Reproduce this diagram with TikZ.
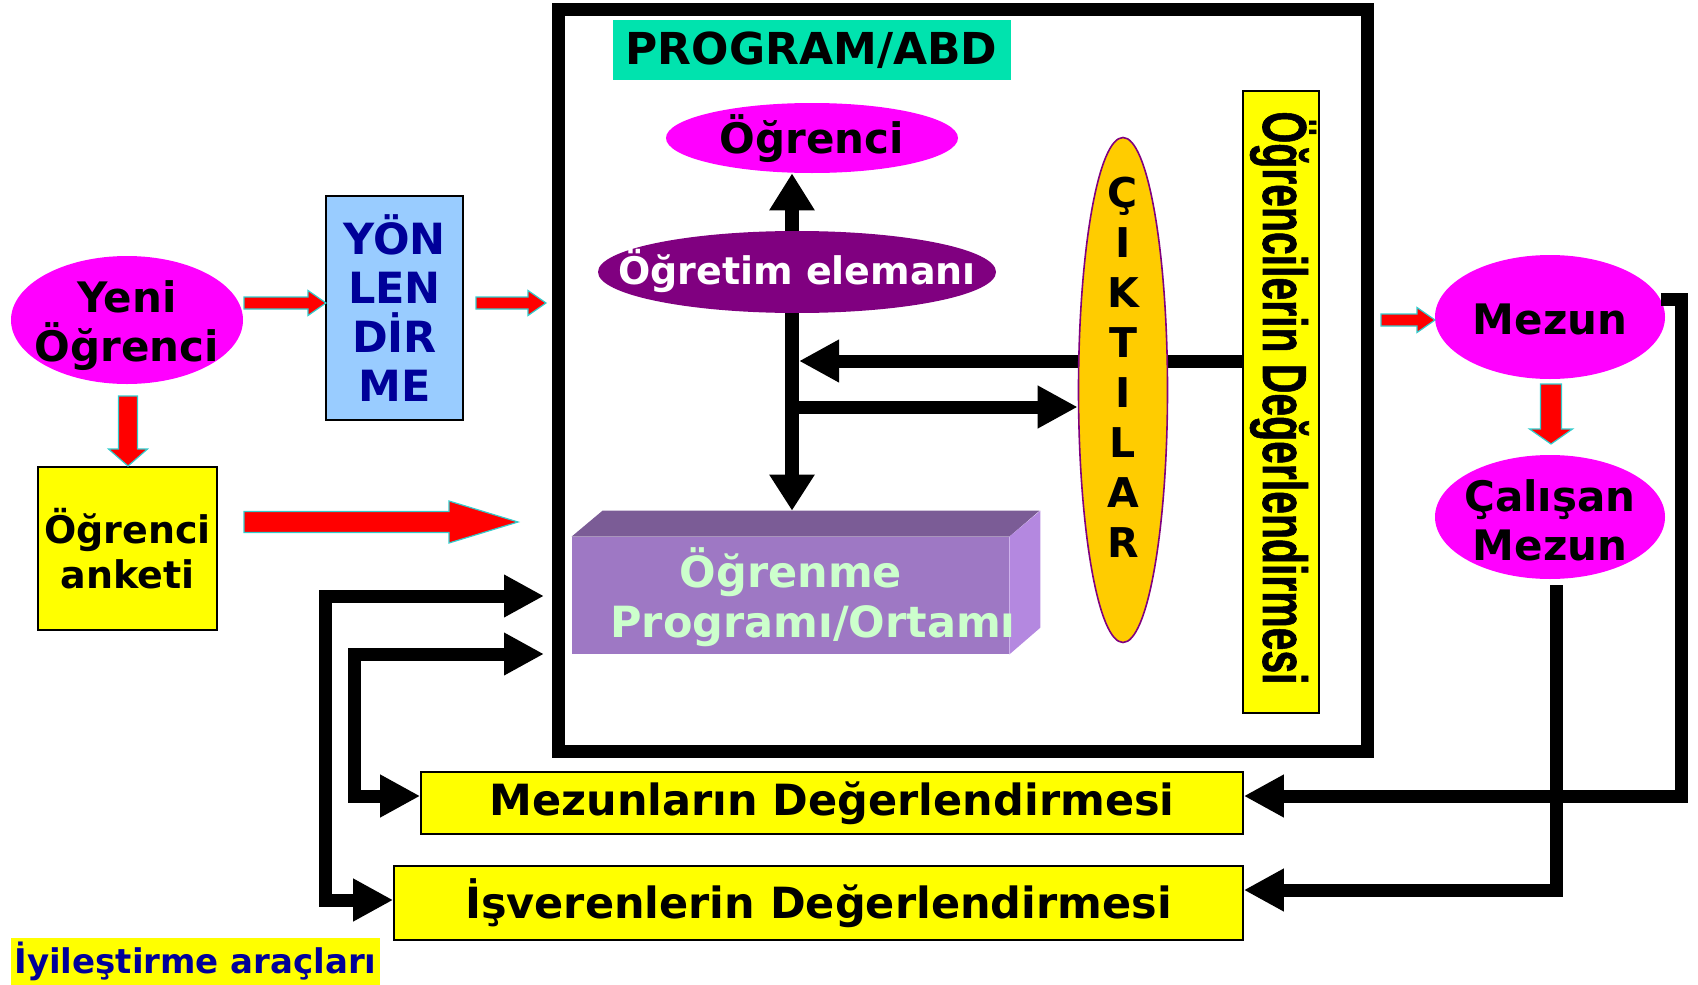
\documentclass[tikz,border=0pt]{standalone}
\usepackage{fontspec}
\setmainfont{DejaVu Sans}
\newfontfamily\libsans{Liberation Sans Bold}[FakeBold=1.2]
\usetikzlibrary{shapes.geometric,arrows.meta}
\definecolor{magentaF}{RGB}{255,0,255}
\definecolor{navyT}{RGB}{0,0,153}
\definecolor{skyB}{RGB}{153,204,255}
\definecolor{yel}{RGB}{255,255,0}
\definecolor{turq}{RGB}{0,227,174}
\definecolor{purp}{RGB}{128,0,128}
\definecolor{gold}{RGB}{255,204,0}
\definecolor{boxFront}{RGB}{158,120,196}
\definecolor{boxTop}{RGB}{123,92,150}
\definecolor{boxSide}{RGB}{180,136,224}
\definecolor{mint}{RGB}{204,255,204}
\definecolor{arrowEdge}{RGB}{51,204,204}
\pgfdeclarelayer{bg}
\pgfsetlayers{bg,main}
\newcommand{\fs}[2]{\fontsize{#1}{#2}\selectfont}
\newcommand{\hblk}[6]{\filldraw[redblk] (#1,{#2-#4}) -- ({#3-#6},{#2-#4}) -- ({#3-#6},{#2-#5}) -- (#3,#2) -- ({#3-#6},{#2+#5}) -- ({#3-#6},{#2+#4}) -- (#1,{#2+#4}) -- cycle;}
\newcommand{\vblk}[6]{\filldraw[redblk] ({#1-#4},#2) -- ({#1-#4},{#3-#6}) -- ({#1-#5},{#3-#6}) -- (#1,#3) -- ({#1+#5},{#3-#6}) -- ({#1+#4},{#3-#6}) -- ({#1+#4},#2) -- cycle;}
\tikzset{
  ell/.style={ellipse, fill=magentaF, inner sep=0pt},
  etext/.style={align=center, inner sep=0pt, font=\bfseries\fs{21}{24.5}},
  ybox/.style={rectangle, fill=yel, draw=black, line width=0.8pt, inner sep=0pt, font=\bfseries\fs{21.5}{26}},
  redblk/.style={fill=red, draw=arrowEdge, line width=0.6pt},
  conn/.style={line width=6.5pt, -{Triangle[length=20pt,width=20pt]}},
  conn2/.style={line width=6.5pt, {Triangle[length=20pt,width=20pt]}-{Triangle[length=20pt,width=20pt]}},
}
\begin{document}
\begin{tikzpicture}[x=0.5pt,y=-0.5pt]
\useasboundingbox (0,0) rectangle (1698,985);
% main frame
\node[draw, line width=6.5pt, minimum width=404.5pt, minimum height=371pt, inner sep=0pt] (frame) at (962.5,380) {};
\node[fill=turq, minimum width=199pt, minimum height=30pt, inner sep=0pt, font=\bfseries\fs{22}{26}] (program) at (811.5,50) {PROGRAM/ABD};
% left side
\node[ell, minimum width=116pt, minimum height=64pt] (yeni) at (127,320) {};
\node[etext] (yeniT) at (127,326) {Yeni\\Öğrenci};
\node[rectangle, fill=skyB, draw=black, line width=0.8pt, minimum width=68.5pt, minimum height=112pt, inner sep=0pt, align=center, text=navyT, font=\bfseries\fs{21.5}{24.5}] (yon) at (394.5,308) {YÖN\\LEN\\DİR\\ME};
\node[ybox, minimum width=89.5pt, minimum height=81.5pt, align=center, font=\bfseries\fs{19}{22.5}] (anket) at (127.5,548.5) {Öğrenci\\anketi};
% inside frame
\node[ell, minimum width=146pt, minimum height=35pt] (ogrenci) at (812,138) {};
\node[etext] (ogrenciT) at (812,139) {Öğrenci};
\node[ellipse, fill=purp, inner sep=0pt, minimum width=199pt, minimum height=41pt] (ogretim) at (797,272) {};
\node[inner sep=0pt, text=white, font=\bfseries\fs{19}{22}] (ogretimT) at (797,271) {Öğretim elemanı};
\node[fill=boxFront, minimum width=218.5pt, minimum height=58.5pt, inner sep=0pt] (ogrenme) at (790.5,595.5) {};
\fill[boxTop] (ogrenme.north west) -- ++(31,-26) -- ++(437,0) -- (ogrenme.north east) -- cycle;
\fill[boxSide] (ogrenme.north east) -- ++(31,-26) -- ++(0,117) -- (ogrenme.south east) -- cycle;
\coordinate (boxtop) at ([shift={(31,-26)}]ogrenme.north west);
\node[text=mint, align=center, font=\bfseries\fs{21.5}{25}] (ogrenmetext) at (813,597) {Öğrenme\hspace*{22pt}\\Programı/Ortamı};
\node[ellipse, fill=gold, draw=purp, line width=0.8pt, inner sep=0pt, minimum width=44.5pt, minimum height=252.5pt] (ciktilar) at (1123,390) {};
\node[align=center, font=\bfseries\fs{20.5}{25}] (ciktilartext) at (1123,367) {Ç\\I\\K\\T\\I\\L\\A\\R};
\node[ybox, minimum width=38pt, minimum height=311pt] (ogrencilerin) at (1281,402) {};
\node[rotate=-90, font=\libsans\fs{31}{34}, inner sep=0pt] (ogrencilerintext) at (1283,398) {\scalebox{0.66}[1]{Öğrencilerin Değerlendirmesi}};
% internal connectors
\path (ogretim.north) ++(-5,0) coordinate (vt);
\path (ogretim.south) ++(-5,0) coordinate (vb);
\draw[line width=7pt, -{Triangle[length=18.5pt,width=21.5pt]}] (vt) -- (vt |- ogrenci.south);
\draw[line width=7pt, -{Triangle[length=18pt,width=21.5pt]}] (vb) -- (vb |- boxtop);
\coordinate (j1) at (799,361);
\coordinate (j2) at (792,407);
\begin{pgfonlayer}{bg}
\draw[conn] (ogrencilerin.west |- j1) -- (j1);
\end{pgfonlayer}
\draw[conn] (j2) -- (j2 -| ciktilar.west);
% right side
\node[ell, minimum width=115pt, minimum height=62pt] (mezun) at (1550,317) {};
\node[etext] (mezunT) at (1550,319) {Mezun};
\node[ell, minimum width=115pt, minimum height=62pt] (calisan) at (1550,517) {};
\node[etext] (calisanT) at (1550,520) {Çalışan\\Mezun};
% bottom boxes
\node[ybox, minimum width=411pt, minimum height=31pt] (mezunlarin) at (832,803) {Mezunların Değerlendirmesi};
\node[ybox, minimum width=424.5pt, minimum height=37pt] (isverenlerin) at (818.5,903) {İşverenlerin Değerlendirmesi};
\node[fill=yel, minimum width=184.5pt, minimum height=23.5pt, inner sep=0pt, text=navyT, font=\bfseries\fs{17}{20}] (iyi) at (195.5,961.5) {İyileştirme araçları};
% right connectors
\coordinate (mr) at (1681,301);
\draw[conn] (mezun.9) -- (mezun.9 -| mr) |- ([yshift=3.5pt]mezunlarin.east);
\path (calisan.south) ++(6,6) coordinate (cs);
\draw[conn] (cs) |- ([yshift=6.5pt]isverenlerin.east);
% left connectors
\coordinate (la) at (325,596);
\coordinate (ta) at (544,596);
\coordinate (lb) at (354,654);
\coordinate (tb) at (544,654);
\draw[conn2] ([yshift=1.5pt]isverenlerin.west) -| (la) -- (ta);
\draw[conn2] ([yshift=3.5pt]mezunlarin.west) -| (lb) -- (tb);
% red block arrows
\hblk{244}{303}{326}{6}{12.5}{18}
\hblk{476}{303}{546}{6}{12.5}{18}
\hblk{244}{522}{518}{10.5}{21}{69}
\vblk{128}{396}{466}{9.5}{19.5}{17}
\hblk{1381}{320}{1435}{6}{12.5}{18}
\vblk{1551}{384}{444}{10.5}{21.5}{15}
\end{tikzpicture}
\end{document}
